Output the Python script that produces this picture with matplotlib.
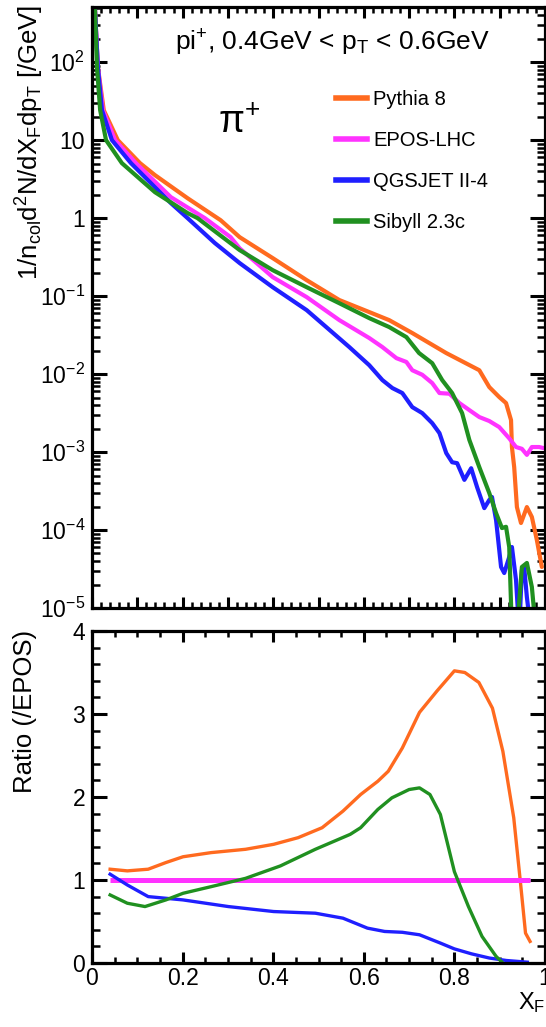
import numpy as np
import matplotlib
matplotlib.use('Agg')
import matplotlib.pyplot as plt
from matplotlib.ticker import MultipleLocator, FixedLocator, FixedFormatter, NullFormatter, LogLocator
from matplotlib.lines import Line2D

plt.rcParams['font.family'] = ['Liberation Sans', 'DejaVu Sans']
plt.rcParams['mathtext.fontset'] = 'custom'
plt.rcParams['mathtext.rm'] = 'Liberation Sans'
plt.rcParams['mathtext.it'] = 'Liberation Sans:italic'
plt.rcParams['mathtext.bf'] = 'Liberation Sans:bold'

# colours (ROOT-ish)
c_pyt = '#ff6a1f'
c_epos = '#ff33ff'
c_qgs = '#1f1fff'
c_sib = '#209020'

labels = ['Pythia 8', 'EPOS-LHC', 'QGSJET II-4', 'Sibyll 2.3c']

# ---- spectra, 1/n_col d2N/dXF dpT [/GeV] ----
pyt_x = [0.0066, 0.013, 0.026, 0.057, 0.106, 0.139, 0.211, 0.284, 0.326, 0.399, 0.474, 0.546,
         0.612, 0.656, 0.707, 0.782, 0.855, 0.877, 0.899, 0.914, 0.925, 0.927,
         0.932, 0.938, 0.947, 0.960, 0.971, 0.982, 0.993]
pyt_y = [464, 86, 24.2, 10, 5.07, 3.56, 1.80, 0.94, 0.57, 0.307, 0.160, 0.089,
         0.0624, 0.0492, 0.0336, 0.0186, 0.0112, 0.00681, 0.00507, 0.00425, 0.00257, 0.00116,
         0.00064, 0.000197, 0.000123, 0.000197, 0.000147, 7.45e-5, 3.36e-5]

epos_x = [0.0066, 0.013, 0.024, 0.051, 0.097, 0.174, 0.249, 0.306, 0.326, 0.399, 0.474, 0.546,
          0.612, 0.641, 0.672, 0.694, 0.707, 0.729, 0.751, 0.767, 0.789,
          0.811, 0.833, 0.855, 0.877, 0.899, 0.921, 0.936, 0.949, 0.960, 0.971, 0.987, 0.998]
epos_y = [464, 86, 24.2, 10, 5.07, 1.86, 1.0, 0.57, 0.41, 0.175, 0.097, 0.0492,
          0.0290, 0.0222, 0.0160, 0.0143, 0.0112, 0.0098, 0.00767, 0.00571, 0.00560,
          0.00425, 0.00345, 0.00281, 0.00250, 0.00209, 0.00150, 0.00116, 0.00110, 0.00092, 0.00116, 0.00116, 0.00112]

qgs_x = [0.0066, 0.013, 0.022, 0.044, 0.086, 0.174, 0.211, 0.271, 0.326, 0.399, 0.474, 0.568,
         0.612, 0.641, 0.663, 0.685, 0.707, 0.729, 0.751, 0.767,
         0.782, 0.795, 0.806, 0.822, 0.837, 0.850, 0.866, 0.877, 0.883, 0.892, 0.903, 0.910,
         0.921, 0.927, 0.936, 0.943, 0.949, 0.954, 0.960, 0.969]
qgs_y = [464, 86, 24.2, 10, 5.07, 1.56, 1.0, 0.48, 0.265, 0.130, 0.066, 0.0222,
         0.0130, 0.00838, 0.00662, 0.00571, 0.00377, 0.00316, 0.00235, 0.00175,
         0.00097, 0.00074, 0.00072, 0.00044, 0.00062, 0.000356, 0.000191, 0.000243, 0.000265, 0.000134, 3.36e-5, 2.81e-5,
         4.5e-5, 6.05e-5, 2.29e-5, 5e-6, 3.07e-5, 3.36e-5, 1.38e-5, 5e-6]

sib_x = [0.0066, 0.011, 0.018, 0.031, 0.066, 0.139, 0.211, 0.233, 0.326, 0.399, 0.474, 0.546,
         0.612, 0.656, 0.694, 0.722, 0.751, 0.773, 0.795, 0.817, 0.833, 0.855,
         0.877, 0.892, 0.905, 0.914, 0.921, 0.927, 0.938, 0.949, 0.960, 0.971, 0.980]
sib_y = [464, 86, 24.2, 10, 5.07, 2.15, 1.16, 1.0, 0.389, 0.215, 0.130, 0.081,
         0.0522, 0.0401, 0.0298, 0.0186, 0.0138, 0.00838, 0.00571, 0.00316, 0.00143, 0.00064,
         0.000298, 0.000165, 0.000106, 0.000110, 6.05e-5, 5e-6, 5e-6, 3.36e-5, 3.78e-5, 1.86e-5, 5e-6]

# ---- ratio to EPOS ----
r_pyt_x = [0.040, 0.078, 0.124, 0.163, 0.201, 0.263, 0.339, 0.401, 0.455, 0.508, 0.554, 0.593, 0.631,
           0.654, 0.685, 0.723, 0.762, 0.800, 0.823, 0.854, 0.884, 0.907, 0.931, 0.946, 0.957, 0.967]
r_pyt_y = [1.13, 1.11, 1.13, 1.21, 1.28, 1.33, 1.37, 1.43, 1.51, 1.63, 1.83, 2.03, 2.19,
           2.31, 2.59, 3.02, 3.28, 3.52, 3.50, 3.38, 3.07, 2.55, 1.75, 0.96, 0.36, 0.26]

r_epos_x = [0.040, 0.967]
r_epos_y = [1.0, 1.0]

r_qgs_x = [0.040, 0.078, 0.124, 0.201, 0.301, 0.401, 0.493, 0.554, 0.608, 0.646, 0.685, 0.723,
           0.769, 0.800, 0.838, 0.877, 0.915, 0.961]
r_qgs_y = [1.07, 0.94, 0.80, 0.76, 0.68, 0.62, 0.60, 0.54, 0.42, 0.38, 0.37, 0.34,
           0.24, 0.17, 0.11, 0.06, 0.03, 0.01]

r_sib_x = [0.040, 0.078, 0.117, 0.163, 0.201, 0.263, 0.339, 0.416, 0.493, 0.570, 0.593, 0.631,
           0.662, 0.700, 0.723, 0.746, 0.769, 0.800, 0.831, 0.861, 0.892, 0.907]
r_sib_y = [0.82, 0.72, 0.68, 0.76, 0.84, 0.92, 1.02, 1.17, 1.37, 1.55, 1.63, 1.85,
           1.99, 2.09, 2.11, 2.03, 1.79, 1.10, 0.68, 0.32, 0.08, 0.0]

W, H = 546, 1027
fig = plt.figure(figsize=(W / 100, H / 100), dpi=100)
ax1 = fig.add_axes([92 / W, 1 - 608 / H, (545 - 92) / W, (608 - 7) / H])
ax2 = fig.add_axes([92 / W, 1 - 963 / H, (545 - 92) / W, (963 - 631) / H])

lw = 3.0
for x, y, c in [(pyt_x, pyt_y, c_pyt), (epos_x, epos_y, c_epos), (qgs_x, qgs_y, c_qgs), (sib_x, sib_y, c_sib)]:
    ax1.plot(x, y, color=c, lw=lw, solid_joinstyle='round', solid_capstyle='round')

ax1.set_yscale('log')
ax1.set_xlim(0, 1)
ax1.set_ylim(1e-5, 510)

ax2.plot(r_pyt_x, r_pyt_y, color=c_pyt, lw=2.4, solid_joinstyle='round')
ax2.plot(r_epos_x, r_epos_y, color=c_epos, lw=3.6, solid_capstyle='butt')
ax2.plot(r_qgs_x, r_qgs_y, color=c_qgs, lw=2.4, solid_joinstyle='round')
ax2.plot(r_sib_x, r_sib_y, color=c_sib, lw=2.4, solid_joinstyle='round')
ax2.set_xlim(0, 1)
ax2.set_ylim(0, 4)

for ax in (ax1, ax2):
    for s in ax.spines.values():
        s.set_linewidth(2.3)
    ax.tick_params(which='both', direction='in', top=True, right=True, width=2.2, labelsize=16.5)
    ax.tick_params(which='minor', width=1.8)

# top panel ticks
ax1.xaxis.set_major_locator(MultipleLocator(0.1))
ax1.xaxis.set_minor_locator(MultipleLocator(0.02))
ax1.tick_params(axis='x', which='major', length=8, labelbottom=False)
ax1.tick_params(axis='x', which='minor', length=4)
dec = [1e-5, 1e-4, 1e-3, 1e-2, 1e-1, 1, 10, 100]
dec_lab = ['$10^{-5}$', '$10^{-4}$', '$10^{-3}$', '$10^{-2}$', '$10^{-1}$', '1', '10', '$10^{2}$']
ax1.yaxis.set_major_locator(FixedLocator(dec))
ax1.yaxis.set_major_formatter(FixedFormatter(dec_lab))
ax1.yaxis.set_minor_locator(LogLocator(base=10, subs=np.arange(2, 10), numticks=20))
ax1.yaxis.set_minor_formatter(NullFormatter())
ax1.tick_params(axis='y', which='major', length=11, pad=5)
ax1.tick_params(axis='y', which='minor', length=5.5)

# ratio panel ticks
ax2.set_xticks([0, 0.2, 0.4, 0.6, 0.8, 1.0])
ax2.set_xticklabels(['0', '0.2', '0.4', '0.6', '0.8', '1'])
ax2.xaxis.set_minor_locator(MultipleLocator(0.05))
ax2.tick_params(axis='x', which='major', length=8, pad=3)
ax2.tick_params(axis='x', which='minor', length=4)
ax2.set_yticks([0, 1, 2, 3, 4])
ax2.set_yticklabels(['0', '1', '2', '3', '4'])
ax2.yaxis.set_minor_locator(MultipleLocator(0.2))
ax2.tick_params(axis='y', which='major', length=11, pad=5)
ax2.tick_params(axis='y', which='minor', length=5.5)

# texts
fig.text(332 / W, 1 - 43 / H, r'pi$^{+}$, 0.4GeV < p$_{\mathrm{T}}$ < 0.6GeV',
         ha='center', va='center', fontsize=19)
fig.text(239 / W, 1 - 123 / H, 'π$^{+}$', ha='center', va='center', fontsize=27)

handles = [Line2D([], [], color=c, lw=4) for c in (c_pyt, c_epos, c_qgs, c_sib)]
fig.legend(handles, labels, loc='upper left', bbox_to_anchor=(336 / W, 1 - 90 / H), frameon=False,
           fontsize=14.5, handlelength=1.55, handletextpad=0.3, labelspacing=1.1, borderpad=0, borderaxespad=0)

fig.text(30 / W, 1 - 5 / H, r'1/n$_{\mathrm{col}}$d$^{2}$N/dX$_{\mathrm{F}}$dp$_{\mathrm{T}}$ [/GeV]', rotation=90,
         ha='center', va='top', fontsize=18.5)
fig.text(25 / W, 1 - 630 / H, 'Ratio (/EPOS)', rotation=90, ha='center', va='top', fontsize=18.5)
fig.text(545 / W, 1 - 1003 / H, r'X$_{\mathrm{F}}$', ha='right', va='center', fontsize=17)

fig.savefig('out.png', dpi=100)
